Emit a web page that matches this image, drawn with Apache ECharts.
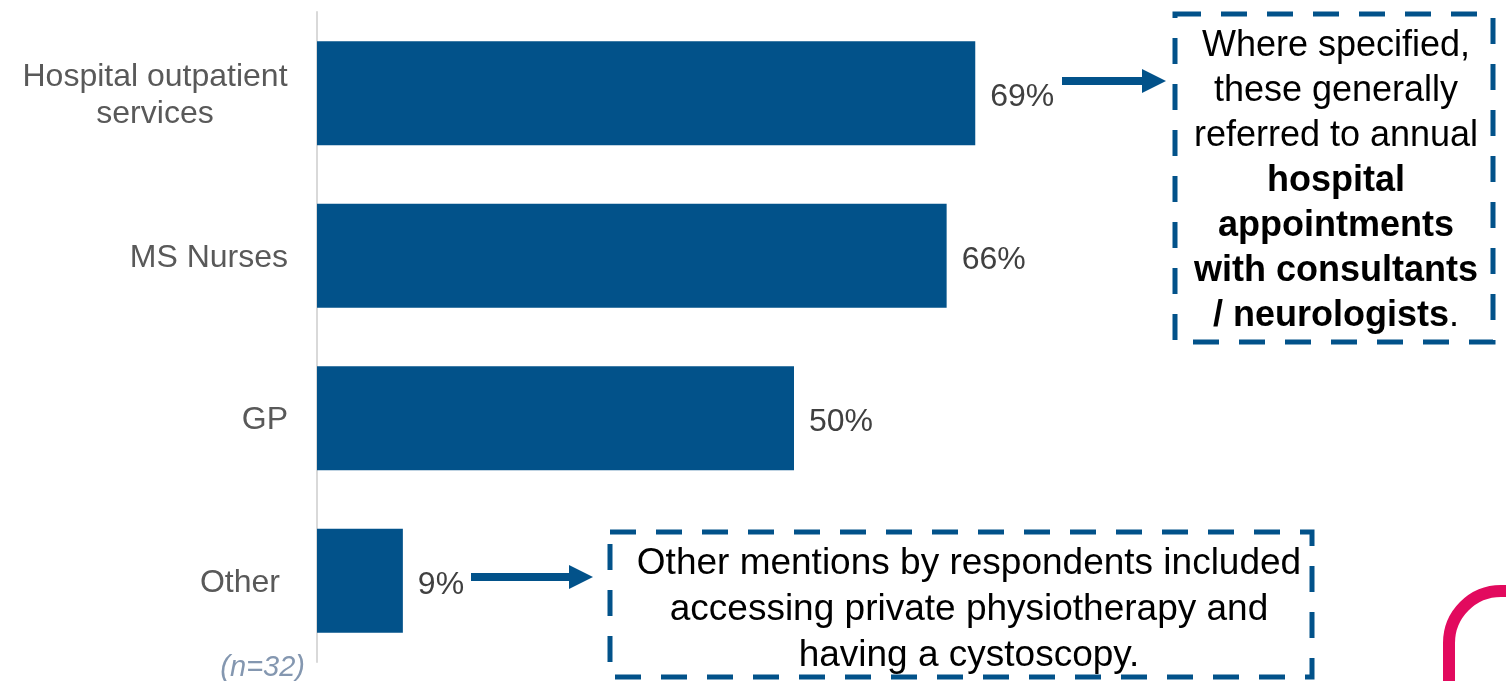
<!DOCTYPE html>
<html>
<head>
<meta charset="utf-8">
<title>Services accessed</title>
<script src="https://cdn.jsdelivr.net/npm/echarts@6/dist/echarts.min.js"></script>
<style>
  html, body { margin: 0; padding: 0; background: #ffffff; }
  #chart { width: 1506px; height: 681px; }
</style>
</head>
<body>
<div id="chart"></div>
<script>
// Services accessed by respondents (share of respondents, %)
const categories = ['Hospital outpatient services', 'MS Nurses', 'GP', 'Other'];
const shares = [69, 66, 50, 9];
const sampleNote = '(n=32)';

const BLUE = '#02528A';
const FONT = "'Liberation Sans', Arial, sans-serif";

const chart = echarts.init(document.getElementById('chart'), null, { renderer: 'canvas' });

const dashed = {
  stroke: BLUE,
  lineWidth: 5,
  fill: null,
  lineDash: [26, 20]
};

function arrow(x1, x2, y) {
  return [
    { type: 'rect', shape: { x: x1, y: y - 4, width: x2 - x1 - 22, height: 8 }, style: { fill: BLUE } },
    { type: 'polygon', shape: { points: [[x2 - 24, y - 12], [x2, y], [x2 - 24, y + 12]] }, style: { fill: BLUE } }
  ];
}

chart.setOption({
  animation: false,
  backgroundColor: '#ffffff',
  grid: { left: 317, top: 12, width: 954, height: 650, containLabel: false },
  xAxis: {
    type: 'value', min: 0, max: 100, show: false
  },
  yAxis: {
    type: 'category',
    inverse: true,
    data: categories,
    axisLine: { show: true, lineStyle: { color: '#D9D9D9', width: 2 } },
    axisTick: { show: false },
    splitLine: { show: false },
    axisLabel: {
      margin: 29,
      fontFamily: FONT,
      fontSize: 32,
      color: '#595959',
      lineHeight: 36,
      formatter: function (v) {
        if (v === 'Hospital outpatient services') return '{c|Hospital outpatient}\n{c|services}';
        if (v === 'Other') return '{o|Other}';
        return '{r|' + v + '}';
      },
      rich: {
        c: { width: 266, align: 'center', fontFamily: FONT, fontSize: 32, color: '#595959', lineHeight: 37, padding: [4, 0, 0, 0] },
        r: { fontFamily: FONT, fontSize: 32, color: '#595959', padding: [4, 0, 0, 0] },
        o: { padding: [4, 8, 0, 0], fontFamily: FONT, fontSize: 32, color: '#595959' }
      }
    }
  },
  series: [{
    type: 'bar',
    data: shares,
    barWidth: 104,
    itemStyle: { color: BLUE },
    label: {
      show: true,
      position: 'right',
      distance: 15,
      offset: [0, 4],
      formatter: '{c}%',
      fontFamily: FONT,
      fontSize: 32,
      color: '#404040'
    }
  }],
  graphic: [
    // note box for hospital outpatient services
    { type: 'rect', shape: { x: 1175, y: 14, width: 318, height: 328 }, style: dashed },
    {
      type: 'text', x: 1336, y: 181,
      style: {
        text: '{n|Where specified,}\n{n|these generally}\n{n|referred to annual}\n{b|hospital}\n{b|appointments}\n{b|with consultants}\n{b|/ neurologists}{n|.}',
        align: 'center', verticalAlign: 'middle',
        fill: '#000000',
        rich: {
          n: { fontFamily: FONT, fontSize: 36, lineHeight: 45, fill: '#000000' },
          b: { fontFamily: FONT, fontSize: 36, lineHeight: 45, fontWeight: 'bold', fill: '#000000' }
        }
      }
    },
    ...arrow(1062, 1166, 81),
    // note box for other mentions
    { type: 'rect', shape: { x: 610, y: 532, width: 702, height: 145 }, style: dashed },
    {
      type: 'text', x: 969, y: 610,
      style: {
        text: 'Other mentions by respondents included\naccessing private physiotherapy and\nhaving a cystoscopy.',
        align: 'center', verticalAlign: 'middle',
        fontFamily: FONT, fontSize: 37, lineHeight: 46, fill: '#000000'
      }
    },
    ...arrow(471, 593, 577),
    // sample size
    {
      type: 'text', x: 305, y: 668,
      style: {
        text: sampleNote, align: 'right', verticalAlign: 'middle',
        fontFamily: FONT, fontSize: 29, fontStyle: 'italic', fill: '#8497B0'
      }
    },
    // decorative corner mark
    {
      type: 'rect', shape: { x: 1449, y: 591, width: 200, height: 200, r: 52 },
      style: { stroke: '#E20A5E', lineWidth: 12, fill: null }
    }
  ]
});
</script>
</body>
</html>
